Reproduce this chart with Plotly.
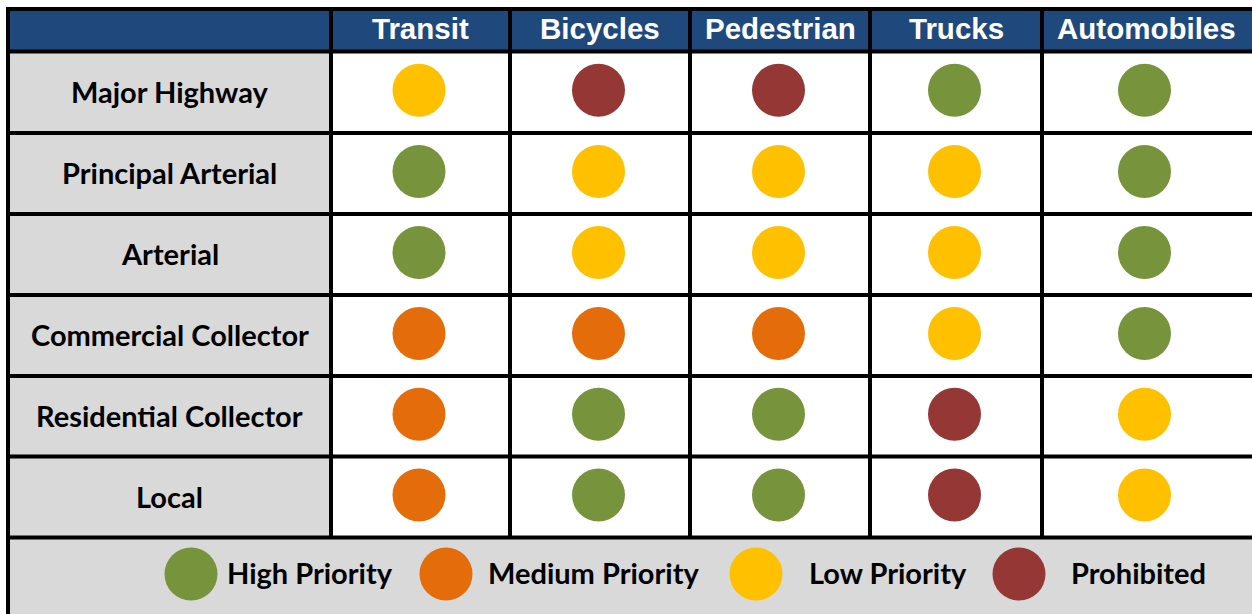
import plotly.graph_objects as go

# ---------------- data ----------------
road_types = ["Major Highway", "Principal Arterial", "Arterial",
              "Commercial Collector", "Residential Collector", "Local"]
modes = ["Transit", "Bicycles", "Pedestrian", "Trucks", "Automobiles"]

transit = ["Low", "High", "High", "Medium", "Medium", "Medium"]
bicycles = ["Prohibited", "Low", "Low", "Medium", "High", "High"]
pedestrian = ["Prohibited", "Low", "Low", "Medium", "High", "High"]
trucks = ["High", "Low", "Low", "Low", "Prohibited", "Prohibited"]
automobiles = ["High", "High", "High", "High", "Low", "Low"]

priority_levels = ["High", "Medium", "Low", "Prohibited"]
legend_labels = ["High Priority", "Medium Priority", "Low Priority", "Prohibited"]

# ---------------- styles / layout ----------------
COLORS = {"High": "#77933C", "Medium": "#E46C0A",
          "Low": "#FFC000", "Prohibited": "#953735"}
HEADER_BG = "#1F497D"
LABEL_BG = "#D9D9D9"
W, H = 1252, 614
COL_EDGES = [8, 331, 510, 690, 870, 1042, 1254]
ROW_EDGES = [9, 51.5, 133, 214, 295, 376, 456.5, 537.5, 640]
LEGEND_MARK_X = [191, 446, 756, 1019]
LEGEND_TEXT_X = [225, 486, 807, 1069]
LEGEND_Y = 574
DOT = 53
LINE_W = 4
LABEL_FONT = dict(family="Lato", size=29, color="black", weight="bold")
HEADER_FONT = dict(family="Liberation Sans, Arial", size=29.5, color="white", weight="bold")

series = [transit, bicycles, pedestrian, trucks, automobiles]

fig = go.Figure()
shapes = []
annotations = []

# backgrounds
shapes.append(dict(type="rect", xref="x", yref="y", x0=COL_EDGES[0], x1=COL_EDGES[-1],
                   y0=ROW_EDGES[0], y1=ROW_EDGES[1], fillcolor=HEADER_BG,
                   line=dict(width=0), layer="below"))
shapes.append(dict(type="rect", xref="x", yref="y", x0=COL_EDGES[0], x1=COL_EDGES[1],
                   y0=ROW_EDGES[1], y1=ROW_EDGES[7], fillcolor=LABEL_BG,
                   line=dict(width=0), layer="below"))
shapes.append(dict(type="rect", xref="x", yref="y", x0=COL_EDGES[0], x1=COL_EDGES[-1],
                   y0=ROW_EDGES[7], y1=ROW_EDGES[8], fillcolor=LABEL_BG,
                   line=dict(width=0), layer="below"))

# grid lines
for yv in ROW_EDGES[:-1]:
    shapes.append(dict(type="line", xref="x", yref="y", x0=COL_EDGES[0] - LINE_W / 2,
                       x1=COL_EDGES[-1], y0=yv, y1=yv,
                       line=dict(color="black", width=LINE_W), layer="above"))
for j, xv in enumerate(COL_EDGES[:-1]):
    y_end = ROW_EDGES[8] if j == 0 else ROW_EDGES[7]
    shapes.append(dict(type="line", xref="x", yref="y", x0=xv, x1=xv,
                       y0=ROW_EDGES[0], y1=y_end,
                       line=dict(color="black", width=LINE_W), layer="above"))

col_centers = [(COL_EDGES[k] + COL_EDGES[k + 1]) / 2 for k in range(len(COL_EDGES) - 1)]
col_centers[-1] = (COL_EDGES[-2] + 1250) / 2
row_centers = [(ROW_EDGES[k] + ROW_EDGES[k + 1]) / 2 for k in range(len(ROW_EDGES) - 1)]

# header texts
for m, mode in enumerate(modes):
    annotations.append(dict(x=col_centers[m + 1], y=row_centers[0] - 1.5, xref="x", yref="y",
                            text=mode, showarrow=False, font=HEADER_FONT))
# row labels
for r, name in enumerate(road_types):
    annotations.append(dict(x=col_centers[0], y=row_centers[r + 1] - 1, xref="x", yref="y",
                            text=name, showarrow=False, font=LABEL_FONT))

# dots
for level in priority_levels:
    xs, ys = [], []
    for m, col in enumerate(series):
        for r, val in enumerate(col):
            if val == level:
                xs.append(col_centers[m + 1] - 1.5)
                ys.append(row_centers[r + 1] - 2)
    fig.add_trace(go.Scatter(x=xs, y=ys, mode="markers", showlegend=False,
                             hoverinfo="skip",
                             marker=dict(size=DOT, color=COLORS[level], line=dict(width=0))))

# legend
fig.add_trace(go.Scatter(x=LEGEND_MARK_X, y=[LEGEND_Y] * len(priority_levels),
                         mode="markers", showlegend=False, hoverinfo="skip",
                         marker=dict(size=DOT, color=[COLORS[p] for p in priority_levels],
                                     line=dict(width=0))))
for k, lab in enumerate(legend_labels):
    annotations.append(dict(x=LEGEND_TEXT_X[k], y=LEGEND_Y - 2, xref="x", yref="y",
                            text=lab, showarrow=False, xanchor="left", font=LABEL_FONT))

fig.update_layout(
    width=W, height=H, margin=dict(l=0, r=0, t=0, b=0),
    paper_bgcolor="white", plot_bgcolor="white",
    xaxis=dict(range=[0, W], visible=False, fixedrange=True),
    yaxis=dict(range=[H, 0], visible=False, fixedrange=True),
    shapes=shapes, annotations=annotations,
)

fig.write_html("out.html",
               config={"displayModeBar": False},
               post_script="document.body.style.margin='0px';document.body.style.overflow='hidden';")
